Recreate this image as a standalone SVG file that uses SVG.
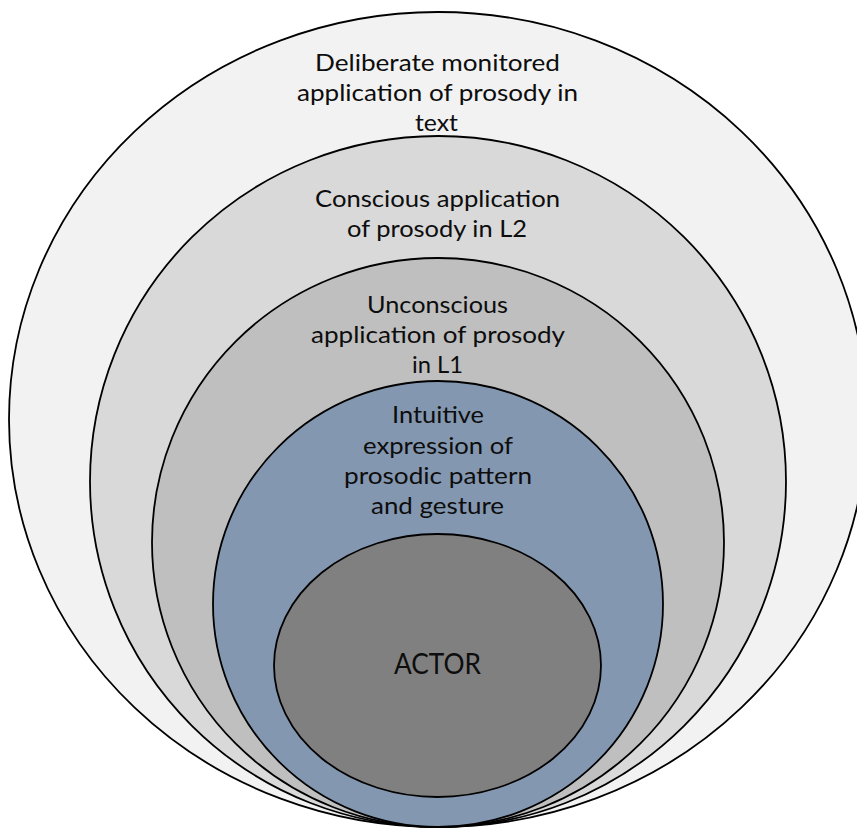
<svg xmlns="http://www.w3.org/2000/svg" width="857" height="828" viewBox="0 0 857 828">
<style>
.ring{stroke:#000;stroke-width:1.8}
.t{font-family:Lato,"Liberation Sans",sans-serif;font-size:24px;fill:#0d0d0d;text-anchor:middle}
.big{font-size:29.5px}
</style>
<rect width="857" height="828" fill="#fff"/>
<g id="level-text">
<ellipse class="ring" cx="438" cy="419.5" rx="429" ry="407.5" fill="#F2F2F2"/>
<text class="t" x="437.5" y="71" textLength="245" lengthAdjust="spacingAndGlyphs">Deliberate monitored</text>
<text class="t" x="437.5" y="101" textLength="281" lengthAdjust="spacingAndGlyphs">application of prosody in</text>
<text class="t" x="436.5" y="131" textLength="43" lengthAdjust="spacingAndGlyphs">text</text>
</g>
<g id="level-l2">
<ellipse class="ring" cx="438" cy="481.5" rx="348" ry="345.5" fill="#D9D9D9"/>
<text class="t" x="437.5" y="207" textLength="245" lengthAdjust="spacingAndGlyphs">Conscious application</text>
<text class="t" x="437" y="237" textLength="180" lengthAdjust="spacingAndGlyphs">of prosody in L2</text>
</g>
<g id="level-l1">
<ellipse class="ring" cx="438" cy="542.5" rx="286" ry="284.5" fill="#BFBFBF"/>
<text class="t" x="437.5" y="313" textLength="141" lengthAdjust="spacingAndGlyphs">Unconscious</text>
<text class="t" x="438" y="343" textLength="254" lengthAdjust="spacingAndGlyphs">application of prosody</text>
<text class="t" x="437.5" y="373" textLength="51" lengthAdjust="spacingAndGlyphs">in L1</text>
</g>
<g id="level-intuitive">
<ellipse class="ring" cx="438" cy="604" rx="225" ry="223" fill="#8497B0"/>
<text class="t" x="438" y="423" textLength="92" lengthAdjust="spacingAndGlyphs">Intuitive</text>
<text class="t" x="438" y="454" textLength="150" lengthAdjust="spacingAndGlyphs">expression of</text>
<text class="t" x="438" y="484" textLength="188" lengthAdjust="spacingAndGlyphs">prosodic pattern</text>
<text class="t" x="437.5" y="514" textLength="133" lengthAdjust="spacingAndGlyphs">and gesture</text>
</g>
<g id="actor">
<ellipse class="ring" cx="437.5" cy="665.5" rx="163.5" ry="131.5" fill="#808080"/>
<text class="t big" x="437.5" y="674" textLength="87" lengthAdjust="spacingAndGlyphs">ACTOR</text>
</g>
<g id="connectors"/>
</svg>
